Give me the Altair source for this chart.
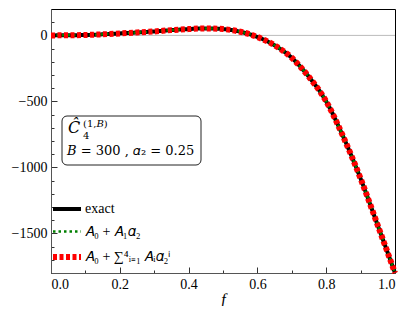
import altair as alt
import pandas as pd

# ---- data ----
f_vals = [0.0, 0.05, 0.1, 0.15, 0.2, 0.25, 0.3, 0.35, 0.4, 0.45, 0.5,
          0.55, 0.6, 0.65, 0.7, 0.75, 0.8, 0.85, 0.9, 0.95, 1.0]
exact_vals = [0, 1, 3, 8, 15, 22, 30, 40, 48, 53, 48,
              28, -12, -75, -170, -315, -500, -770, -1085, -1440, -1800]
lin_vals = [0, 1, 3, 8, 15, 22, 30, 40, 48, 53, 48,
            28, -12, -75, -170, -315, -500, -770, -1085, -1440, -1800]
full_vals = [0, 1, 3, 8, 15, 22, 30, 40, 48, 53, 48,
             28, -12, -75, -170, -315, -500, -770, -1085, -1440, -1800]

series_names = ["exact", "𝐴₀ + 𝐴₁𝛼₂", "𝐴₀ + ∑⁴ᵢ₌₁ 𝐴ᵢ𝛼₂ⁱ"]
series_colors = ["#000000", "#008000", "#ff0000"]
series_dash = [[1, 0], [2.5, 3], [4, 2.5]]
series_width = [4, 2.5, 6]

x_major = [0.0, 0.2, 0.4, 0.6, 0.8, 1.0]
x_minor = [0.1, 0.3, 0.5, 0.7, 0.9]
y_major = [-1500, -1000, -500, 0]
y_minor = [-1700, -1600, -1400, -1300, -1200, -1100, -900, -800, -700,
           -600, -400, -300, -200, -100, 100]

rows = []
for k, (name, vals) in enumerate(zip(series_names, [exact_vals, lin_vals, full_vals])):
    for fv, v in zip(f_vals, vals):
        rows.append({"f": fv, "C": v, "series": name})
df = pd.DataFrame(rows)

SERIF = "Liberation Serif, serif"
SERIF2 = "DejaVu Serif, serif"
xs = alt.Scale(domain=[0, 1], nice=False, zero=False)
ys = alt.Scale(domain=[-1800, 200], nice=False, zero=False)

legend = alt.Legend(title=None, orient="none", legendX=6, legendY=191,
                    symbolType="M-2,0H2", symbolSize=196,
                    labelFont=SERIF, labelFontSize=14, labelColor="#000",
                    labelOffset=8, rowPadding=6, symbolFillColor="transparent")
color_enc = alt.Color("series:N", sort=series_names,
                      scale=alt.Scale(domain=series_names, range=series_colors), legend=legend)
dash_enc = alt.StrokeDash("series:N", sort=series_names,
                          scale=alt.Scale(domain=series_names, range=series_dash), legend=legend)
width_enc = alt.StrokeWidth("series:N", sort=series_names,
                            scale=alt.Scale(type="ordinal", domain=series_names, range=series_width),
                            legend=legend)

zero_rule = alt.Chart(pd.DataFrame({"y": [0]})).mark_rule(color="#bbbbbb", strokeWidth=1).encode(
    y=alt.Y("y:Q", scale=ys, axis=None)
)


def tick_layer(xv, yv, size):
    return alt.Chart(pd.DataFrame({"x": [0], "y": [0]})).mark_point(opacity=0).encode(
        x=alt.X("x:Q", scale=xs, axis=alt.Axis(orient="bottom", values=xv, offset=-size, tickSize=size,
                                              labels=False, domain=False, grid=False, title=None,
                                              tickColor="#333")),
        y=alt.Y("y:Q", scale=ys, axis=alt.Axis(orient="left", values=yv, offset=-size, tickSize=size,
                                              labels=False, domain=False, grid=False, title=None,
                                              tickColor="#333")),
    )


major = tick_layer(x_major, y_major, 6)
minor = tick_layer(x_minor, y_minor, 3)

line_layers = []
for i, name in enumerate(series_names):
    if i == 0:
        xa = alt.Axis(orient="bottom", values=x_major, format=".1f", ticks=False, grid=False,
                      labelFont=SERIF, labelFontSize=14, labelColor="#000", labelPadding=4,
                      domainColor="#555", title="f", titleFont=SERIF, titleFontStyle="italic",
                      titleFontWeight="normal", titleFontSize=16, titleColor="#000", titlePadding=0)
        ya = alt.Axis(orient="left", values=y_major, format="d", ticks=False, grid=False,
                      labelFont=SERIF, labelFontSize=14, labelColor="#000", labelPadding=4,
                      domainColor="#555", title=None)
    else:
        xa = None
        ya = None
    line_layers.append(
        alt.Chart(df).transform_filter(alt.datum.series == name).mark_line(interpolate="monotone").encode(
            x=alt.X("f:Q", scale=xs, axis=xa),
            y=alt.Y("C:Q", scale=ys, axis=ya),
            color=color_enc, strokeDash=dash_enc, strokeWidth=width_enc,
        )
    )

box = alt.Chart(pd.DataFrame({"a": [0]})).mark_rect(
    fill="white", stroke="#222", strokeWidth=1, cornerRadius=5
).encode(x=alt.value(11), x2=alt.value(150), y=alt.value(107), y2=alt.value(156))


def txt(s, x, y, size, style="normal"):
    return alt.Chart(pd.DataFrame({"t": [s]})).mark_text(
        font=SERIF2, fontSize=size, fontStyle=style, align="left", baseline="alphabetic", color="#000"
    ).encode(text="t:N", x=alt.value(x), y=alt.value(y))


ann = [
    txt("Ĉ", 17, 124, 16, "italic"),
    txt("(1,𝐵)", 32, 118, 10),
    txt("4", 32, 130, 10),
    txt("𝐵 = 300 , 𝛼₂ = 0.25", 16, 146, 13),
]

chart = alt.layer(zero_rule, major, minor, *line_layers, box, *ann).resolve_axis(
    x="independent", y="independent"
).properties(
    width=344, height=264,
    autosize=alt.AutoSizeParams(type="none"),
    padding={"left": 43, "top": 1, "right": 4, "bottom": 33},
).configure_view(stroke="#000", strokeWidth=1)

chart.save("out.html", embed_options={"renderer": "svg", "actions": False})
